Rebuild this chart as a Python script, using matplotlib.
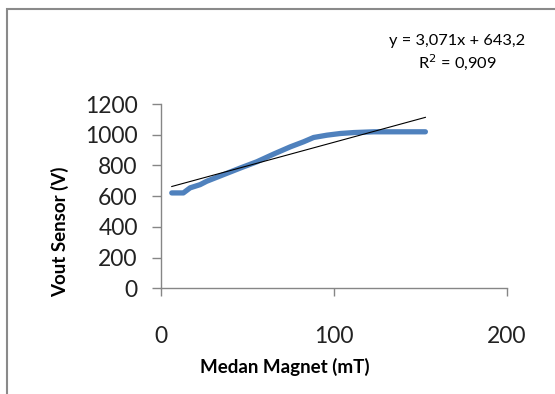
import matplotlib
matplotlib.use("Agg")
import matplotlib.pyplot as plt
from matplotlib.patches import Rectangle
import numpy as np

# data
medan_magnet = [6.4, 13.1, 17.0, 22.8, 26.6, 36.3, 46.0, 55.6, 65.3, 74.9, 82.6,
                88.4, 96.1, 103.9, 111.6, 123.2, 153.0]
vout_sensor = [621, 621, 654, 675, 697, 740, 783, 824, 874, 921, 954,
               982, 997, 1008, 1014, 1019, 1019]
slope = 3.071
intercept = 643.2
r2_text = "0,909"
x_ticks = [0, 100, 200]
y_ticks = [0, 200, 400, 600, 800, 1000, 1200]

plt.rcParams['font.family'] = ['Lato', 'DejaVu Sans']

fig = plt.figure(figsize=(5.55, 3.94), dpi=100)
ax = fig.add_axes([160.7/555, 1-288.3/394, (506.7-160.7)/555, (288.3-104)/394])

ax.plot(medan_magnet, vout_sensor, color='#4F81BD', lw=3.8, solid_capstyle='round',
        solid_joinstyle='round', zorder=2)
xs = np.array([medan_magnet[0], medan_magnet[-1]])
ax.plot(xs, slope*xs + intercept, color='black', lw=0.8, zorder=3)

ax.set_xlim(0, 200)
ax.set_ylim(0, 1200)
ax.set_xticks(x_ticks)
ax.set_yticks(y_ticks)
ax.tick_params(axis='x', direction='out', length=6, width=1, color='#868686',
               labelsize=16.5, pad=21, labelcolor='#222222')
ax.tick_params(axis='y', direction='out', length=6.5, width=1, color='#868686',
               labelsize=16.5, pad=10, labelcolor='#222222')
for s in ['top', 'right']:
    ax.spines[s].set_visible(False)
for s in ['left', 'bottom']:
    ax.spines[s].set_color('#868686')
    ax.spines[s].set_linewidth(1)

fig.text(285/555, 1-367/394, 'Medan Magnet (mT)', ha='center', va='center',
         fontsize=13.5, fontweight='bold')
fig.text(60/555, 1-232/394, 'Vout Sensor (V)', ha='center', va='center',
         rotation=90, fontsize=13.5, fontweight='bold')
fig.text(457/555, 1-41/394, 'y = 3,071x + 643,2', ha='center', va='center',
         fontsize=11.8)
fig.text(457/555, 1-62/394, 'R$^2$ = ' + r2_text, ha='center', va='center',
         fontsize=11.8)

fig.patches.append(Rectangle((7/555, -0.05), 1.2, 1 - 8.5/394 + 0.05,
                             transform=fig.transFigure, fill=False,
                             edgecolor='#8a8a8a', lw=1.5))

fig.savefig('out.png', dpi=100)
